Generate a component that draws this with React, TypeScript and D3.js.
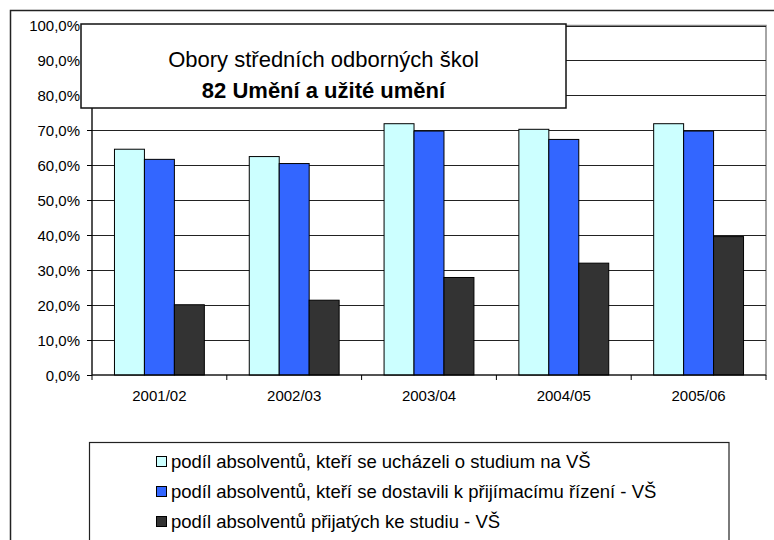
import React from "react";
import * as d3 from "d3";

const categories = ["2001/02", "2002/03", "2003/04", "2004/05", "2005/06"];
const seriesNames = [
  "podíl absolventů, kteří se ucházeli o studium na VŠ",
  "podíl absolventů, kteří se dostavili k přijímacímu řízení - VŠ",
  "podíl absolventů přijatých ke studiu - VŠ",
];
const applied = [64.6, 62.5, 71.9, 70.3, 71.9];
const attended = [61.7, 60.5, 69.8, 67.4, 69.8];
const accepted = [20.1, 21.4, 27.9, 32.0, 39.6];
const seriesColors = ["#CCFFFF", "#3366FF", "#333333"];
const yTicks = [0, 10, 20, 30, 40, 50, 60, 70, 80, 90, 100];
const titleLine1 = "Obory středních odborných škol";
const titleLine2 = "82 Umění a užité umění";

const FONT = "'Liberation Sans', Arial, sans-serif";

export default function App() {
  const W = 774, H = 540;
  const plotL = 92, plotR = 766, plotT = 25.5, plotB = 375;
  const seriesValues = [applied, attended, accepted];

  const x = d3.scaleBand<string>().domain(categories).range([plotL, plotR])
    .paddingInner(1 / 3).paddingOuter(1 / 6);
  const xs = d3.scaleBand<number>().domain([0, 1, 2]).range([0, x.bandwidth()]);
  const y = d3.scaleLinear().domain([0, 100]).range([plotB, plotT]);
  const step = x.step();

  return (
    <svg width={W} height={H} style={{ position: "absolute", left: 0, top: 0 }}>
      <rect x={0} y={0} width={W} height={H} fill="#fff" />
      {/* outer chart border */}
      <rect x={10.5} y={10.5} width={900} height={700} fill="none" stroke="#222" strokeWidth={1.5} />

      {/* plot area border */}
      <rect x={plotL} y={plotT} width={plotR - plotL} height={plotB - plotT} fill="none" stroke="#888" strokeWidth={1.5} />

      {/* gridlines */}
      {yTicks.filter((t) => t > 0).map((t) => (
        <line key={"g" + t} x1={plotL} x2={plotR} y1={Math.round(y(t)) + 0.5} y2={Math.round(y(t)) + 0.5} stroke="#222" strokeWidth={1} />
      ))}

      {/* bars */}
      {seriesValues.map((vals, si) =>
        categories.map((c, ci) => {
          const bx = (x(c) as number) + (xs(si) as number);
          const by = y(vals[ci]);
          return (
            <rect key={si + "-" + ci} x={bx} y={by} width={xs.bandwidth()} height={plotB - by}
              fill={seriesColors[si]} stroke="#000" strokeWidth={1} />
          );
        })
      )}

      {/* axes */}
      <line x1={plotL} x2={plotL} y1={plotT} y2={plotB} stroke="#000" strokeWidth={1} />
      <line x1={plotL} x2={plotR} y1={plotB} y2={plotB} stroke="#000" strokeWidth={1} />
      {yTicks.map((t) => (
        <g key={"yt" + t}>
          <line x1={plotL - 5} x2={plotL} y1={Math.round(y(t)) + 0.5} y2={Math.round(y(t)) + 0.5} stroke="#000" />
          <text x={80} y={y(t) + 5.5} textAnchor="end" fontFamily={FONT} fontSize={15} fill="#000">
            {t.toFixed(1).replace(".", ",") + "%"}
          </text>
        </g>
      ))}
      {categories.map((c, i) => (
        <line key={"xt" + i} x1={plotL + i * step} x2={plotL + i * step} y1={plotB} y2={plotB + 5} stroke="#000" />
      ))}
      <line x1={plotR} x2={plotR} y1={plotB} y2={plotB + 5} stroke="#000" />
      {categories.map((c) => (
        <text key={"xl" + c} x={(x(c) as number) + x.bandwidth() / 2} y={401} textAnchor="middle"
          fontFamily={FONT} fontSize={15} fill="#000">{c}</text>
      ))}

      {/* title box */}
      <rect x={81} y={24} width={485} height={84} fill="#fff" stroke="#111" strokeWidth={1.5} />
      <text x={323.5} y={67} textAnchor="middle" fontFamily={FONT} fontSize={22} fill="#000">{titleLine1}</text>
      <text x={323.5} y={98} textAnchor="middle" fontFamily={FONT} fontSize={22} fontWeight="bold" fill="#000">{titleLine2}</text>

      {/* legend */}
      <rect x={89.5} y={442.5} width={639.5} height={120} fill="#fff" stroke="#222" strokeWidth={1.2} />
      {seriesNames.map((n, i) => (
        <g key={"lg" + i}>
          <rect x={156.5} y={456.5 + i * 30} width={10} height={10} fill={seriesColors[i]} stroke="#000" strokeWidth={1} />
          <text x={171} y={468 + i * 30} fontFamily={FONT} fontSize={18.5} fill="#000">{n}</text>
        </g>
      ))}
    </svg>
  );
}
